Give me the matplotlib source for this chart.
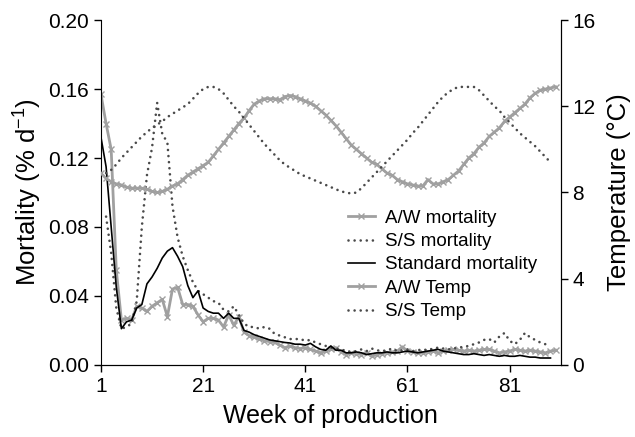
import numpy as np
import matplotlib
matplotlib.use('Agg')
import matplotlib.pyplot as plt

plt.rcParams['font.family'] = ['Liberation Sans', 'DejaVu Sans']
plt.rcParams['mathtext.fontset'] = 'custom'
plt.rcParams['mathtext.rm'] = 'Liberation Sans'
plt.rcParams['mathtext.default'] = 'regular'

# weeks of production
weeks_aw = list(range(1, 91))
weeks_ss = list(range(2, 90))
weeks_std = list(range(1, 90))

# mortality (% per day)
aw_mortality = [0.157, 0.14, 0.125, 0.055, 0.026, 0.027, 0.026, 0.034, 0.033, 0.031,
                0.034, 0.036, 0.038, 0.028, 0.044, 0.045, 0.035, 0.035, 0.034, 0.029,
                0.025, 0.027, 0.027, 0.026, 0.022, 0.029, 0.023, 0.028, 0.019, 0.017,
                0.016, 0.015, 0.014, 0.0135, 0.013, 0.0115, 0.010, 0.011, 0.010, 0.0095,
                0.010, 0.009, 0.008, 0.007, 0.008, 0.009, 0.010, 0.0075, 0.006, 0.007,
                0.0065, 0.006, 0.007, 0.005, 0.006, 0.0065, 0.007, 0.0075, 0.008, 0.0105,
                0.008, 0.0075, 0.007, 0.007, 0.0075, 0.008, 0.007, 0.008, 0.0085, 0.009,
                0.0085, 0.008, 0.0085, 0.008, 0.0085, 0.009, 0.009, 0.008, 0.007, 0.0075,
                0.008, 0.009, 0.0085, 0.008, 0.0085, 0.008, 0.0075, 0.007, 0.008, 0.0085]

ss_mortality = [0.086, 0.065, 0.033, 0.021, 0.022, 0.024, 0.037, 0.08, 0.11, 0.126,
                0.152, 0.134, 0.129, 0.092, 0.074, 0.063, 0.055, 0.048, 0.043, 0.041,
                0.039, 0.037, 0.036, 0.032, 0.031, 0.034, 0.029, 0.024, 0.022, 0.022,
                0.021, 0.022, 0.021, 0.018, 0.017, 0.016, 0.015, 0.015, 0.015, 0.014,
                0.0145, 0.013, 0.012, 0.011, 0.010, 0.0095, 0.009, 0.008, 0.0075, 0.008,
                0.009, 0.008, 0.0095, 0.0085, 0.008, 0.0085, 0.0095, 0.008, 0.0085, 0.009,
                0.008, 0.0085, 0.009, 0.0085, 0.0095, 0.010, 0.0095, 0.009, 0.0095, 0.010,
                0.0105, 0.011, 0.012, 0.013, 0.0145, 0.015, 0.013, 0.0165, 0.0185, 0.014,
                0.012, 0.0145, 0.0185, 0.016, 0.0145, 0.013, 0.012, 0.0115]

std_mortality = [0.132, 0.115, 0.08, 0.045, 0.021, 0.025, 0.026, 0.033, 0.035, 0.047,
                 0.051, 0.056, 0.062, 0.066, 0.068, 0.063, 0.057, 0.046, 0.039, 0.043,
                 0.033, 0.031, 0.030, 0.030, 0.027, 0.030, 0.027, 0.027, 0.020, 0.019,
                 0.0175, 0.0165, 0.0155, 0.0145, 0.014, 0.0135, 0.013, 0.0127, 0.012, 0.012,
                 0.0115, 0.0125, 0.0105, 0.009, 0.0085, 0.011, 0.0085, 0.0085, 0.007, 0.007,
                 0.0075, 0.007, 0.006, 0.0065, 0.007, 0.007, 0.0075, 0.007, 0.007, 0.0075,
                 0.008, 0.0075, 0.007, 0.0075, 0.008, 0.0085, 0.009, 0.008, 0.0075, 0.007,
                 0.0065, 0.006, 0.006, 0.0065, 0.006, 0.0055, 0.006, 0.0055, 0.005, 0.0055,
                 0.005, 0.005, 0.0055, 0.005, 0.0045, 0.0045, 0.004, 0.004, 0.004]

# temperature (deg C)
aw_temp = [8.9, 8.65, 8.5, 8.4, 8.35, 8.25, 8.2, 8.2, 8.2, 8.15,
           8.05, 8.0, 8.05, 8.15, 8.3, 8.4, 8.6, 8.8, 8.95, 9.1,
           9.25, 9.4, 9.7, 10.0, 10.3, 10.6, 10.9, 11.2, 11.45, 11.8,
           12.1, 12.25, 12.35, 12.35, 12.35, 12.3, 12.45, 12.5, 12.45, 12.35,
           12.25, 12.15, 12.0, 11.8, 11.6, 11.35, 11.1, 10.8, 10.5, 10.2,
           10.0, 9.8, 9.6, 9.4, 9.3, 9.1, 8.9, 8.8, 8.6, 8.5,
           8.4, 8.35, 8.3, 8.3, 8.6, 8.4, 8.4, 8.5, 8.6, 8.8,
           9.0, 9.3, 9.6, 9.8, 10.1, 10.3, 10.6, 10.8, 11.0, 11.3,
           11.5, 11.7, 11.9, 12.1, 12.4, 12.6, 12.75, 12.8, 12.85, 12.9]

ss_temp = [8.9, 9.05, 9.3, 9.6, 9.85, 10.1, 10.35, 10.6, 10.8, 11.0,
           11.15, 11.3, 11.5, 11.65, 11.8, 11.95, 12.1, 12.35, 12.6, 12.8,
           12.9, 12.9, 12.8, 12.6, 12.3, 12.0, 11.75, 11.45, 11.15, 10.85,
           10.55, 10.25, 10.0, 9.75, 9.5, 9.3, 9.15, 9.0, 8.85, 8.75,
           8.65, 8.55, 8.45, 8.35, 8.25, 8.15, 8.05, 8.0, 7.95, 8.0,
           8.2, 8.45, 8.7, 8.95, 9.2, 9.45, 9.7, 9.95, 10.2, 10.45,
           10.75, 11.0, 11.3, 11.6, 11.9, 12.2, 12.45, 12.65, 12.8, 12.9,
           12.9, 12.9, 12.9, 12.75, 12.5, 12.25, 12.0, 11.8, 11.5, 11.25,
           11.0, 10.75, 10.55, 10.35, 10.15, 9.9, 9.65, 9.4]

fig = plt.figure(figsize=(6.35, 4.37), dpi=100)
ax = fig.add_axes([0.159, 0.165, 0.724, 0.789])
ax2 = ax.twinx()

grey = '#a0a0a0'
dark = '#4a4a4a'
dots = (0, (0.01, 2.3))

l1, = ax.plot(weeks_aw, aw_mortality, color=grey, lw=2, marker='x', ms=4.5, mew=1,
              label='A/W mortality')
l2, = ax.plot(weeks_ss, ss_mortality, color=dark, lw=1.9, ls=dots, dash_capstyle='round',
              label='S/S mortality')
l3, = ax.plot(weeks_std, std_mortality, color='black', lw=1.2, label='Standard mortality')
l4, = ax2.plot(weeks_aw, aw_temp, color=grey, lw=2, marker='x', ms=4.5, mew=1,
               label='A/W Temp')
l5, = ax2.plot(weeks_ss, ss_temp, color=dark, lw=1.9, ls=dots, dash_capstyle='round',
               label='S/S Temp')

ax.set_xlim(1, 91)
ax.set_ylim(0, 0.2)
ax2.set_ylim(0, 16)
ax.set_xticks([1, 21, 41, 61, 81])
ax.set_yticks(np.arange(0, 0.21, 0.04))
ax.set_yticklabels([f'{v:.2f}' for v in np.arange(0, 0.21, 0.04)])
ax2.set_yticks([0, 4, 8, 12, 16])

for a in (ax, ax2):
    a.spines['top'].set_visible(False)
    a.tick_params(labelsize=15, length=5, width=1)
ax2.spines['left'].set_visible(False)

ax.set_xlabel('Week of production', fontsize=18, labelpad=6)
ax.set_ylabel('Mortality (% d$^{-1}$)', fontsize=18.5, labelpad=3)
ax2.set_ylabel('Temperature (°C)', fontsize=18.5, labelpad=8)

ax2.legend(handles=[l1, l2, l3, l4, l5], loc='upper left', bbox_to_anchor=(0.537, 0.45),
           frameon=False, fontsize=13.5, handlelength=1.45, labelspacing=0.33,
           handletextpad=0.55, borderpad=0, borderaxespad=0)

fig.savefig('out.png', dpi=100)
